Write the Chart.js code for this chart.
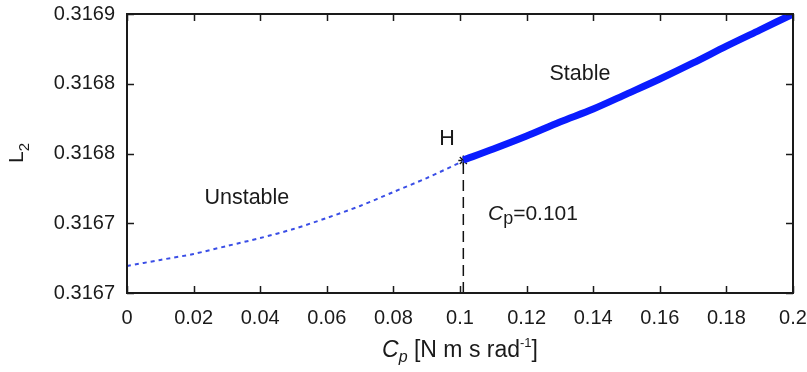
<!DOCTYPE html>
<html><head><meta charset="utf-8">
<script src="https://cdn.jsdelivr.net/npm/chart.js@4.4.1/dist/chart.umd.min.js"></script>
<style>html,body{margin:0;padding:0;background:#fff;}</style>
</head><body>
<canvas id="c" width="807" height="372"></canvas>
<script>
// ---- data ----
const unstableCp = [0, 0.01, 0.02, 0.03, 0.04, 0.05, 0.06, 0.07, 0.08, 0.09, 0.101];
const unstableL2 = [0.3166694, 0.3166737, 0.3166780, 0.3166837, 0.3166894, 0.3166959, 0.3167038, 0.3167124, 0.3167224, 0.3167324, 0.3167446];
const stableCp = [0.101, 0.11, 0.12, 0.13, 0.14, 0.15, 0.16, 0.17, 0.18, 0.19, 0.2];
const stableL2 = [0.3167453, 0.3167532, 0.3167625, 0.3167726, 0.3167819, 0.3167926, 0.3168034, 0.3168149, 0.3168270, 0.3168385, 0.3168500];
const hopfCp = 0.101;
const hopfL2 = 0.3167450;
const xTickValues = [0, 0.02, 0.04, 0.06, 0.08, 0.1, 0.12, 0.14, 0.16, 0.18, 0.2];
const xTickLabels = ["0", "0.02", "0.04", "0.06", "0.08", "0.1", "0.12", "0.14", "0.16", "0.18", "0.2"];
const yTickValues = [0.31665, 0.31670, 0.31675, 0.31680, 0.31685];
const yTickLabels = ["0.3167", "0.3167", "0.3168", "0.3168", "0.3169"];
const yMin = 0.31665, yMax = 0.31685;

const FONT = "'Liberation Sans', Arial, sans-serif";
const TXT = '#1a1a1a';

const boxPlugin = {
  id: 'boxTicks',
  afterDraw(chart) {
    const ctx = chart.ctx, a = chart.chartArea, xs = chart.scales.x, ys = chart.scales.y;
    ctx.save();
    ctx.strokeStyle = '#1a1a1a';
    ctx.lineWidth = 2;
    ctx.strokeRect(a.left, a.top, a.right - a.left, a.bottom - a.top);
    ctx.lineWidth = 1.5;
    const L = 7;
    xTickValues.forEach(v => {
      const px = Math.round(xs.getPixelForValue(v)) + 0.5;
      ctx.beginPath();
      ctx.moveTo(px, a.bottom); ctx.lineTo(px, a.bottom - L);
      ctx.moveTo(px, a.top); ctx.lineTo(px, a.top + L);
      ctx.stroke();
    });
    yTickValues.forEach(v => {
      const py = Math.round(ys.getPixelForValue(v)) + 0.5;
      ctx.beginPath();
      ctx.moveTo(a.left, py); ctx.lineTo(a.left + L, py);
      ctx.moveTo(a.right, py); ctx.lineTo(a.right - L, py);
      ctx.stroke();
    });
    ctx.fillStyle = TXT;
    ctx.textBaseline = 'alphabetic';
    function runs(parts) {
      let w = 0;
      parts.forEach(p => { ctx.font = p.f; p.w = ctx.measureText(p.t).width; w += p.w; });
      return w;
    }
    function drawRuns(parts, x, y) {
      parts.forEach(p => { ctx.font = p.f; ctx.fillText(p.t, x, y + (p.dy || 0)); x += p.w; });
    }
    // x axis title
    const xt = [
      {t: 'C', f: 'italic 23px ' + FONT},
      {t: 'p', f: 'italic 16px ' + FONT, dy: 5},
      {t: ' [N m s rad', f: '23px ' + FONT},
      {t: '-1', f: '13px ' + FONT, dy: -10},
      {t: ']', f: '23px ' + FONT}
    ];
    const xw = runs(xt);
    ctx.textAlign = 'left';
    drawRuns(xt, (a.left + a.right) / 2 - xw / 2, 357);
    // y axis title
    const yt = [
      {t: 'L', f: '21px ' + FONT},
      {t: '2', f: '15px ' + FONT, dy: 6}
    ];
    const yw = runs(yt);
    ctx.save();
    ctx.translate(23, 153);
    ctx.rotate(-Math.PI / 2);
    drawRuns(yt, -yw / 2, 0);
    ctx.restore();
    // annotations
    ctx.font = '21.5px ' + FONT;
    ctx.textAlign = 'center';
    ctx.textBaseline = 'middle';
    ctx.fillText('Unstable', xs.getPixelForValue(0.036), ys.getPixelForValue(0.316718));
    ctx.fillText('Stable', xs.getPixelForValue(0.136), ys.getPixelForValue(0.316807));
    ctx.fillText('H', xs.getPixelForValue(0.0961), ys.getPixelForValue(0.31676));
    ctx.textAlign = 'left';
    ctx.textBaseline = 'alphabetic';
    const ct = [
      {t: 'C', f: 'italic 21px ' + FONT},
      {t: 'p', f: '18px ' + FONT, dy: 4},
      {t: '=0.101', f: '21px ' + FONT}
    ];
    runs(ct);
    drawRuns(ct, xs.getPixelForValue(0.1084), ys.getPixelForValue(0.316707) + 7);
    ctx.restore();
  }
};

const toPts = (xa, ya) => xa.map((x, i) => ({x: x, y: ya[i]}));

new Chart(document.getElementById('c'), {
  type: 'scatter',
  data: {
    datasets: [
      {
        data: toPts([hopfCp, hopfCp], [yMin, hopfL2]),
        showLine: true, borderColor: '#111', borderWidth: 1.5,
        borderDash: [11, 6], pointRadius: 0
      },
      {
        data: toPts(unstableCp, unstableL2),
        showLine: true, borderColor: '#3a4ee6', borderWidth: 2,
        borderDash: [4, 4], pointRadius: 0, tension: 0.3
      },
      {
        data: toPts(stableCp, stableL2),
        showLine: true, borderColor: '#0a1cff', borderWidth: 7,
        pointRadius: 0, tension: 0.3, borderCapStyle: 'butt'
      },
      {
        data: toPts([hopfCp], [hopfL2]),
        showLine: false, pointStyle: 'star', pointRadius: 5,
        borderColor: '#111', borderWidth: 1.3, backgroundColor: '#111'
      }
    ]
  },
  options: {
    responsive: false,
    animation: false,
    devicePixelRatio: 1,
    layout: {padding: {top: 14, right: 14, left: 0, bottom: 0}},
    plugins: {legend: {display: false}, tooltip: {enabled: false}},
    scales: {
      x: {
        type: 'linear', min: 0, max: 0.2,
        afterBuildTicks: s => { s.ticks = xTickValues.map(v => ({value: v})); },
        afterFit: s => { s.height = 79; s.paddingLeft = 0; s.paddingRight = 0; },
        grid: {display: false, drawTicks: false},
        border: {display: false},
        ticks: {
          autoSkip: false, maxRotation: 0, padding: 13, color: TXT,
          font: {family: FONT, size: 20},
          callback: (v, i) => xTickLabels[i]
        }
      },
      y: {
        type: 'linear', min: yMin, max: yMax,
        afterBuildTicks: s => { s.ticks = yTickValues.map(v => ({value: v})); },
        afterFit: s => { s.width = 127; s.paddingTop = 0; s.paddingBottom = 0; },
        grid: {display: false, drawTicks: false},
        border: {display: false},
        ticks: {
          autoSkip: false, padding: 12, color: TXT,
          font: {family: FONT, size: 20},
          callback: (v, i) => yTickLabels[i]
        }
      }
    }
  },
  plugins: [boxPlugin]
});
</script>
</body></html>
